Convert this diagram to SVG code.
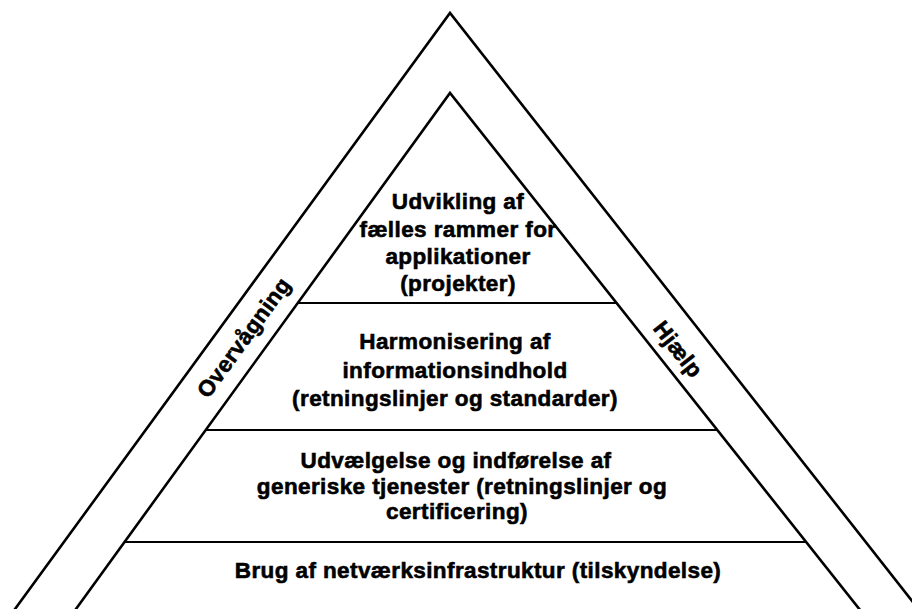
<svg xmlns="http://www.w3.org/2000/svg" width="912" height="609" viewBox="0 0 912 609">
<style>
.ln{fill:none;stroke:#000;stroke-width:2.6;stroke-linejoin:miter}
.hl{fill:none;stroke:#000;stroke-width:2}
.t{font-family:"Liberation Sans",Arial,sans-serif;font-weight:bold;font-size:22.5px;letter-spacing:0.4px;fill:#000;stroke:#000;stroke-width:0.6;text-anchor:middle}
</style>
<rect width="912" height="609" fill="#fff"/>
<g id="connectors">
<polyline id="outer" class="ln" points="7,620 450,13 927,620"/>
<polyline id="inner" class="ln" points="68,620 450,93 868,620"/>
<line class="hl" x1="298" y1="303" x2="617" y2="303"/>
<line class="hl" x1="205" y1="430" x2="718" y2="430"/>
<line class="hl" x1="125" y1="542" x2="807" y2="542"/>
</g>
<g id="layer1">
<text class="t" x="458" y="209">Udvikling af</text>
<text class="t" x="458" y="237">fælles rammer for</text>
<text class="t" x="458" y="264">applikationer</text>
<text class="t" x="458" y="291">(projekter)</text>
</g>
<g id="layer2">
<text class="t" x="455" y="349">Harmonisering af</text>
<text class="t" x="455" y="378">informationsindhold</text>
<text class="t" x="455" y="406">(retningslinjer og standarder)</text>
</g>
<g id="layer3">
<text class="t" x="456" y="468">Udvælgelse og indførelse af</text>
<text class="t" x="462" y="494">generiske tjenester (retningslinjer og</text>
<text class="t" x="457" y="519">certificering)</text>
</g>
<g id="layer4">
<text class="t" x="478" y="578">Brug af netværksinfrastruktur (tilskyndelse)</text>
</g>
<g id="overvaagning">
<text class="t" transform="translate(250,342) rotate(-54)">Overvågning</text>
</g>
<g id="hjaelp">
<text class="t" transform="translate(672,354) rotate(52)">Hjælp</text>
</g>
</svg>
